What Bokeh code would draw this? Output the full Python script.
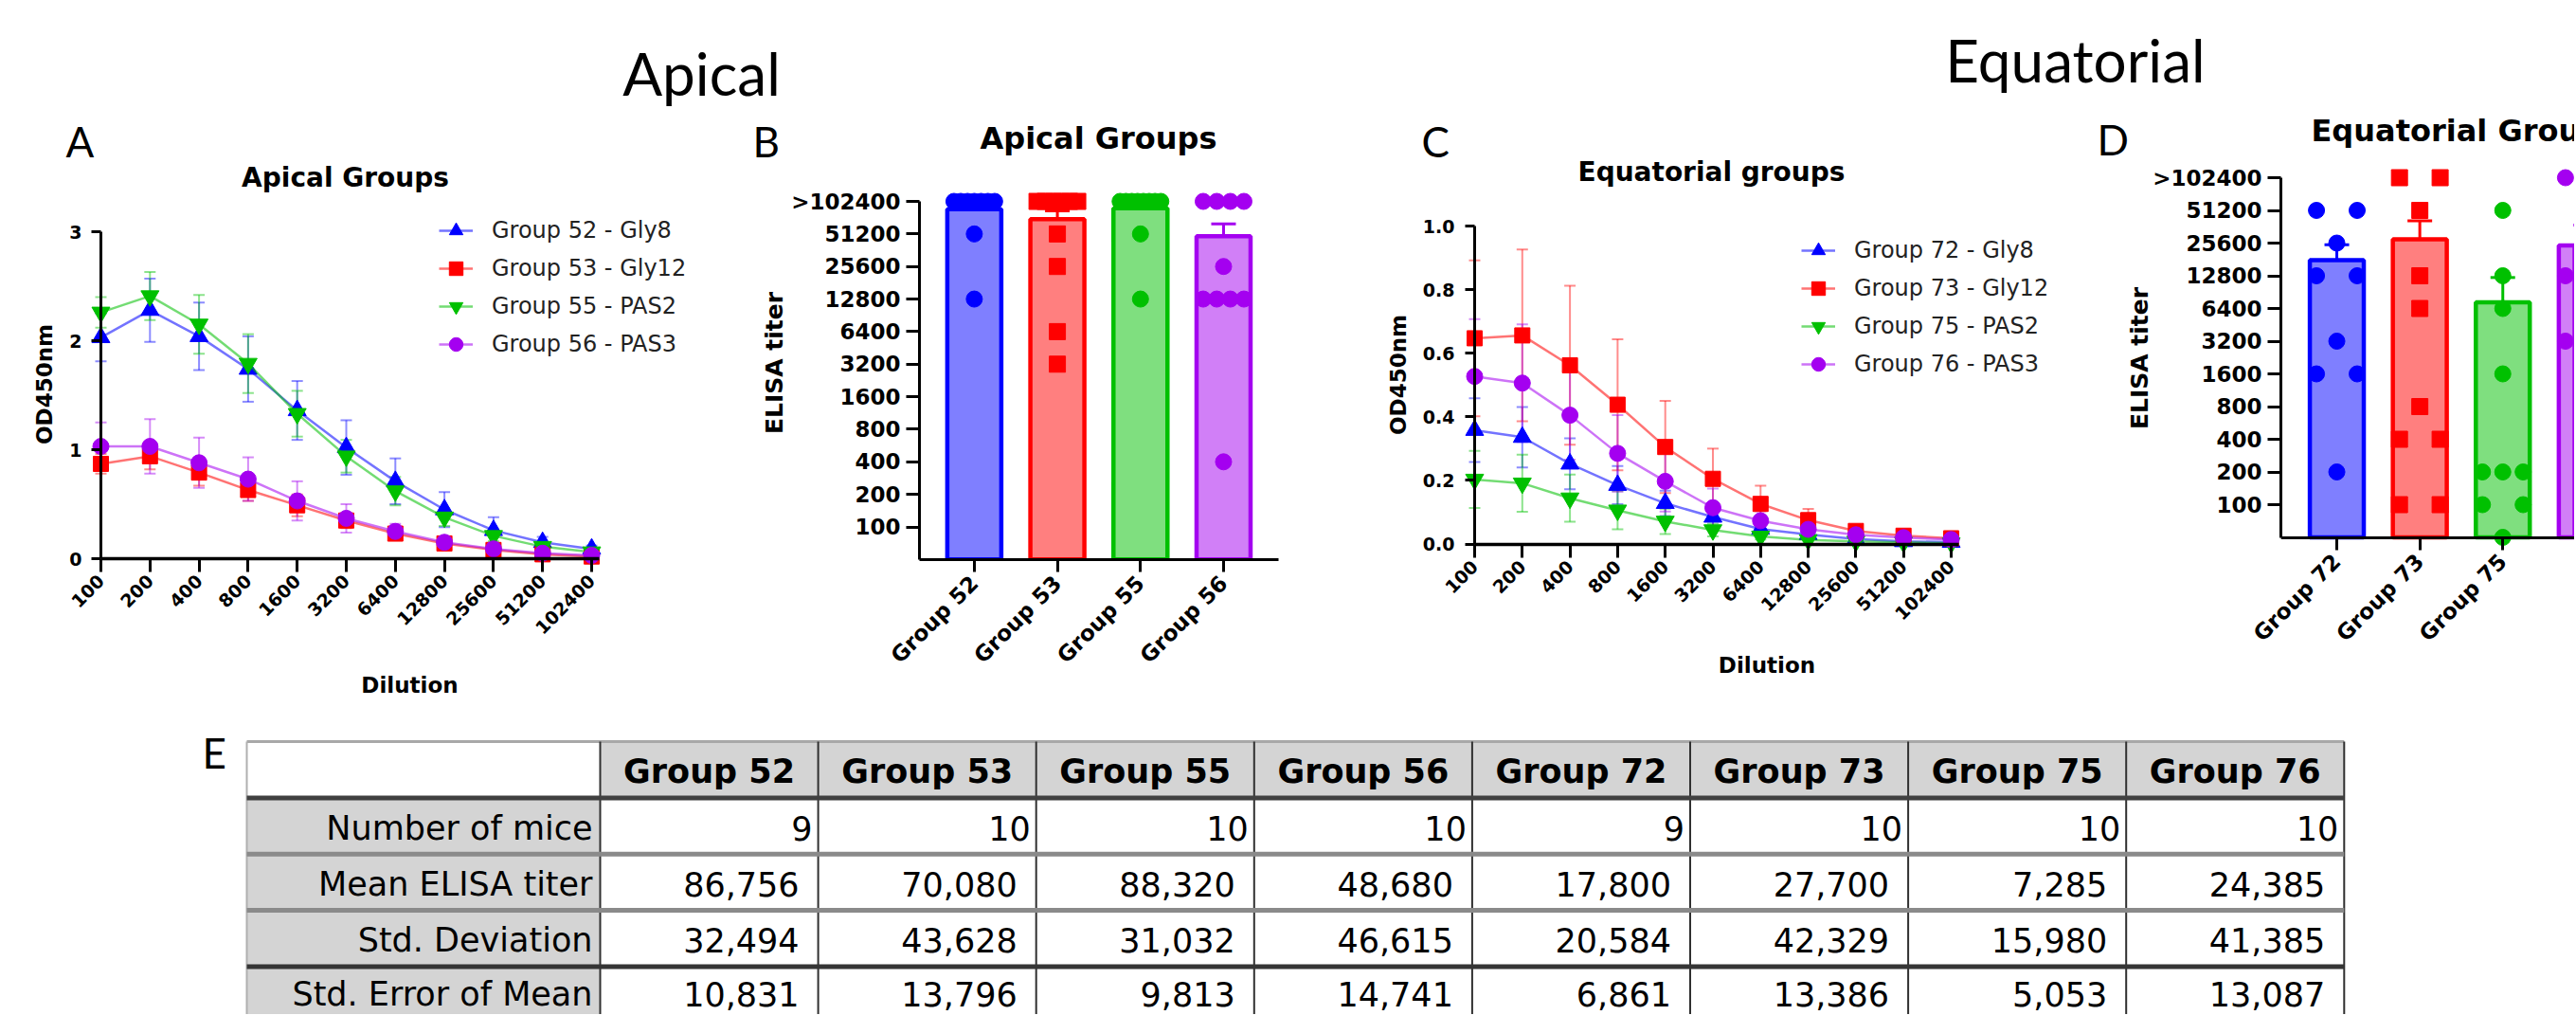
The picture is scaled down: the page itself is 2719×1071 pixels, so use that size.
import math
from bokeh.plotting import figure
from bokeh.models import (Range1d, FixedTicker, BasicTickFormatter, NumeralTickFormatter,
                          Whisker, TeeHead, ColumnDataSource, Legend, LegendItem, Label,
                          LinearAxis, LogAxis)
from bokeh.layouts import column, row
from bokeh.embed import file_html
from bokeh.resources import INLINE
from bokeh.core.properties import value

# ---------------- data ----------------
dilutions = [100, 200, 400, 800, 1600, 3200, 6400, 12800, 25600, 51200, 102400]

apical_names = ["Group 52 - Gly8", "Group 53 - Gly12", "Group 55 - PAS2", "Group 56 - PAS3"]
g52_od = [2.03, 2.28, 2.04, 1.74, 1.36, 1.02, 0.71, 0.45, 0.26, 0.15, 0.09]
g52_err = [0.22, 0.29, 0.31, 0.30, 0.27, 0.25, 0.21, 0.16, 0.12, 0.05, 0.03]
g53_od = [0.87, 0.94, 0.79, 0.63, 0.49, 0.35, 0.23, 0.14, 0.08, 0.04, 0.02]
g53_err = [0.09, 0.12, 0.12, 0.10, 0.10, 0.07, 0.05, 0.03, 0.02, 0.01, 0.01]
g55_od = [2.26, 2.41, 2.15, 1.79, 1.33, 0.94, 0.62, 0.38, 0.21, 0.11, 0.06]
g55_err = [0.14, 0.22, 0.27, 0.27, 0.21, 0.15, 0.13, 0.08, 0.05, 0.03, 0.02]
g56_od = [1.03, 1.03, 0.88, 0.73, 0.53, 0.37, 0.25, 0.15, 0.09, 0.05, 0.03]
g56_err = [0.22, 0.25, 0.23, 0.20, 0.18, 0.13, 0.07, 0.04, 0.03, 0.02, 0.01]

equatorial_names = ["Group 72 - Gly8", "Group 73 - Gly12", "Group 75 - PAS2", "Group 76 - PAS3"]
g72_od = [0.358, 0.336, 0.252, 0.185, 0.128, 0.085, 0.047, 0.030, 0.016, 0.008, 0.006]
g72_err = [0.100, 0.095, 0.080, 0.060, 0.040, 0.030, 0.015, 0.010, 0.010, 0.005, 0.005]
g73_od = [0.647, 0.656, 0.562, 0.438, 0.305, 0.205, 0.126, 0.075, 0.041, 0.026, 0.018]
g73_err = [0.245, 0.270, 0.250, 0.206, 0.145, 0.095, 0.057, 0.035, 0.015, 0.008, 0.005]
g75_od = [0.203, 0.191, 0.144, 0.106, 0.071, 0.044, 0.024, 0.013, 0.008, 0.005, 0.003]
g75_err = [0.090, 0.090, 0.074, 0.060, 0.040, 0.020, 0.010, 0.005, 0.005, 0.003, 0.002]
g76_od = [0.527, 0.506, 0.405, 0.285, 0.197, 0.114, 0.073, 0.046, 0.029, 0.020, 0.014]
g76_err = [0.180, 0.185, 0.140, 0.120, 0.095, 0.060, 0.030, 0.015, 0.010, 0.008, 0.005]

titer_ticks = [100, 200, 400, 800, 1600, 3200, 6400, 12800, 25600, 51200, 102400]
titer_tick_labels = ["100", "200", "400", "800", "1600", "3200", "6400", "12800", "25600", "51200", ">102400"]

apical_groups = ["Group 52", "Group 53", "Group 55", "Group 56"]
titers_52 = [102400, 102400, 102400, 102400, 102400, 102400, 102400, 51200, 12800]
titers_53 = [102400, 102400, 102400, 102400, 102400, 102400, 51200, 25600, 6400, 3200]
titers_55 = [102400, 102400, 102400, 102400, 102400, 102400, 102400, 102400, 51200, 12800]
titers_56 = [102400, 102400, 102400, 102400, 25600, 12800, 12800, 12800, 12800, 400]

equatorial_groups = ["Group 72", "Group 73", "Group 75", "Group 76"]
titers_72 = [51200, 51200, 25600, 12800, 12800, 3200, 1600, 1600, 200]
titers_73 = [102400, 102400, 51200, 12800, 6400, 800, 400, 400, 100, 100]
titers_75 = [51200, 12800, 6400, 1600, 200, 200, 200, 100, 100, 50]
titers_76 = [102400, 102400, 12800, 12800, 3200, 3200, 6400, 400, 200, 50]

table_groups = ["Group 52", "Group 53", "Group 55", "Group 56", "Group 72", "Group 73", "Group 75", "Group 76"]
row_labels = ["Number of mice", "Mean ELISA titer", "Std. Deviation", "Std. Error of Mean"]
n_mice = [9, 10, 10, 10, 9, 10, 10, 10]
mean_titer = [86756, 70080, 88320, 48680, 17800, 27700, 7285, 24385]
std_dev = [32494, 43628, 31032, 46615, 20584, 42329, 15980, 41385]
sem_titer = [10831, 13796, 9813, 14741, 6861, 13386, 5053, 13087]

# ---------------- styles ----------------
BLUE, RED, GREEN, PURPLE = "#0000ff", "#ff0000", "#00c000", "#a400f0"
colors = [BLUE, RED, GREEN, PURPLE]
line_markers = ["triangle", "square", "inverted_triangle", "circle"]
line_marker_sizes = [19, 16, 19, 17]
FONT = "DejaVu Sans"
HEAD_FONT = "Lato"

PAGE_W = 2717
TOP_H = 118          # strip with "Apical" / "Equatorial"
ROW_BOTTOM = 760     # page y where the table starts
TAB_H = 310
COL_X = [0, 770, 1420, 2185, PAGE_W]   # page x of the four panel columns
HEAD_BOTTOM = [205, 175, 200, 173]     # page y where each panel figure starts


def base_fig(**kw):
    p = figure(output_backend="svg", toolbar_location=None, title=None,
               frame_align=False, **kw)
    p.outline_line_color = None
    p.grid.visible = False
    p.background_fill_color = "white"
    p.border_fill_color = "white"
    return p


def strip(x0, y0, x1, y1, texts):
    """Figure whose frame is the whole canvas; texts centred (vertically) at page pixels."""
    p = base_fig(width=x1 - x0, height=y1 - y0, x_range=Range1d(x0, x1), y_range=Range1d(y1, y0),
                 min_border=0, x_axis_location=None, y_axis_location=None)
    for text, x, y, font, size, style, align in texts:
        p.add_layout(Label(x=x, y=y, text=text, text_align=align, text_baseline="middle",
                           text_font=font, text_font_size=size, text_font_style=style,
                           text_color="black"))
    return p


def style_axis(ax):
    ax.axis_line_width = 3
    ax.axis_line_color = "black"
    ax.major_tick_line_width = 3
    ax.major_tick_line_color = "black"
    ax.major_tick_in = 0
    ax.minor_tick_line_color = None
    ax.major_label_text_font = FONT
    ax.major_label_text_font_style = "bold"
    ax.major_label_text_color = "black"
    ax.axis_label_text_font = FONT
    ax.axis_label_text_font_style = "bold"
    ax.axis_label_text_color = "black"


def labels_only(ax):
    ax.axis_line_color = None
    ax.major_tick_line_color = None
    ax.major_tick_out = 0


def line_only(ax, ticks, tick_len):
    ax.ticker = FixedTicker(ticks=ticks, minor_ticks=[])
    ax.major_label_overrides = {t: "" for t in ticks}
    ax.major_label_text_font_size = "1px"
    ax.major_label_standoff = 0
    ax.major_tick_out = tick_len


def line_panel(col, axis_x, px_dbl, axis_y, px_unit, frame_bottom, y_top_tick, yticks, yformat,
               series, names, legend_px, ylab_standoff, ytick_standoff, xtick_standoff,
               xlab_standoff):
    fig_left, fig_right, fig_top = COL_X[col], COL_X[col + 1], HEAD_BOTTOM[col]
    frame_left = axis_x - 12
    x_start = dilutions[0] * 2 ** (-(axis_x - frame_left) / px_dbl)
    x_end = dilutions[0] * 2 ** ((fig_right - axis_x) / px_dbl)
    x_axis_end = dilutions[-1] * 2 ** (8 / px_dbl)
    y_end = (axis_y - fig_top) / px_unit
    y_start = -(frame_bottom - axis_y) / px_unit
    p = base_fig(width=fig_right - fig_left, height=ROW_BOTTOM - fig_top, x_axis_type="log",
                 x_range=Range1d(x_start, x_end), y_range=Range1d(y_start, y_end),
                 min_border_left=frame_left - fig_left, min_border_right=0,
                 min_border_top=0, min_border_bottom=ROW_BOTTOM - frame_bottom)
    xa, ya = p.xaxis[0], p.yaxis[0]
    style_axis(xa)
    style_axis(ya)
    labels_only(xa)
    labels_only(ya)
    xa.ticker = FixedTicker(ticks=dilutions, minor_ticks=[])
    xa.formatter = BasicTickFormatter(use_scientific=False)
    xa.major_label_overrides = {d: str(d) for d in dilutions}
    xa.major_label_orientation = math.pi / 4
    xa.major_label_text_font_size = "19px"
    xa.major_label_standoff = xtick_standoff
    xa.bounds = (dilutions[0], x_axis_end)
    xa.axis_label = "Dilution"
    xa.axis_label_text_font_size = "23px"
    xa.axis_label_standoff = xlab_standoff
    ya.ticker = FixedTicker(ticks=yticks, minor_ticks=[])
    ya.formatter = yformat
    ya.major_label_text_font_size = "19px"
    ya.major_label_standoff = ytick_standoff
    ya.bounds = (0, y_top_tick)
    ya.axis_label = "OD450nm"
    ya.axis_label_text_font_size = "23px"
    ya.axis_label_standoff = ylab_standoff
    # axis lines that cross at (100, 0)
    x_line = LogAxis(fixed_location=0, bounds=(dilutions[0], x_axis_end))
    style_axis(x_line)
    line_only(x_line, dilutions, 14)
    x_line.axis_line_width = 3.5
    p.add_layout(x_line, "below")
    y_line = LinearAxis(fixed_location=dilutions[0], bounds=(0, y_top_tick))
    style_axis(y_line)
    line_only(y_line, yticks, 10)
    p.add_layout(y_line, "left")

    items = []
    for (od, err), name, c, m, s in zip(series, names, colors, line_markers, line_marker_sizes):
        src = ColumnDataSource(dict(x=dilutions, y=od,
                                    lo=[v - e for v, e in zip(od, err)],
                                    hi=[v + e for v, e in zip(od, err)]))
        p.add_layout(Whisker(source=src, base="x", lower="lo", upper="hi",
                             line_color=c, line_alpha=0.45, line_width=2,
                             upper_head=TeeHead(size=12, line_color=c, line_alpha=0.45, line_width=2),
                             lower_head=TeeHead(size=12, line_color=c, line_alpha=0.45, line_width=2)))
        lr = p.line("x", "y", source=src, line_color=c, line_alpha=0.55, line_width=2.5)
        sr = p.scatter("x", "y", source=src, marker=m, size=s, fill_color=c, line_color=c)
        items.append(LegendItem(label=name, renderers=[lr, sr]))
    leg_left, leg_bottom = legend_px
    leg = Legend(items=items, location=(leg_left - frame_left, frame_bottom - leg_bottom),
                 padding=0, margin=0, spacing=0,
                 glyph_width=36, glyph_height=40, label_height=40, label_standoff=20,
                 border_line_color=None, background_fill_alpha=0,
                 label_text_font=FONT, label_text_font_size="24px", label_text_color="#222222")
    p.add_layout(leg)
    return p


def spread(vals, span=0.49):
    counts = {}
    for v in vals:
        counts[v] = counts.get(v, 0) + 1
    seen, offs = {}, []
    for v in vals:
        n = counts[v]
        k = seen.get(v, 0)
        seen[v] = k + 1
        offs.append(0.0 if n == 1 else -span / 2 + span * k / (n - 1))
    return offs


def bar_panel(col, axis_x, px_cat, x_start, frame_right, top_tick, px_dbl, frame_bottom,
              fixed_axis, groups, titer_sets, means, sems, markers, ylab_standoff, xtick_standoff):
    fig_left, fig_right, fig_top = COL_X[col], COL_X[col + 1], HEAD_BOTTOM[col]
    base_px = top_tick + 11 * px_dbl          # page y of the value 50 (x-axis)
    x_end = x_start + (frame_right - axis_x) / px_cat
    y_end = 102400 * 2 ** ((top_tick - fig_top) / px_dbl)
    y_start = 50 * 2 ** (-(frame_bottom - base_px) / px_dbl)
    p = base_fig(width=fig_right - fig_left, height=ROW_BOTTOM - fig_top, y_axis_type="log",
                 x_range=Range1d(x_start, x_end), y_range=Range1d(y_start, y_end),
                 min_border_left=axis_x - fig_left, min_border_right=fig_right - frame_right,
                 min_border_top=0, min_border_bottom=ROW_BOTTOM - frame_bottom)
    xa, ya = p.xaxis[0], p.yaxis[0]
    style_axis(xa)
    style_axis(ya)
    idx = list(range(len(groups)))
    xa.ticker = FixedTicker(ticks=idx, minor_ticks=[])
    xa.major_label_overrides = {i: g for i, g in zip(idx, groups)}
    xa.major_label_orientation = math.pi / 4
    xa.major_label_text_font_size = "23px"
    xa.major_tick_out = 13
    xa.major_label_standoff = xtick_standoff
    if fixed_axis:
        labels_only(xa)
        # keep labels of categories whose centre lies just past the cut edge (partly visible)
        xa.bounds = (-0.3, len(groups) - 0.8)
        x_line = LinearAxis(fixed_location=50)
        style_axis(x_line)
        line_only(x_line, idx, 13)
        p.add_layout(x_line, "below")
    ya.ticker = FixedTicker(ticks=titer_ticks, minor_ticks=[])
    ya.formatter = BasicTickFormatter(use_scientific=False)
    ya.major_label_overrides = {t: l for t, l in zip(titer_ticks, titer_tick_labels)}
    ya.major_label_text_font_size = "23px"
    ya.major_tick_out = 14
    ya.major_label_standoff = 6
    ya.bounds = (50, 102400)
    ya.axis_label = "ELISA titer"
    ya.axis_label_text_font_size = "25px"
    ya.axis_label_standoff = ylab_standoff

    src = ColumnDataSource(dict(x=idx, top=means, hi=[m + s for m, s in zip(means, sems)],
                                c=colors))
    p.add_layout(Whisker(source=src, base="x", lower="top", upper="hi",
                         line_color="c", line_width=3, lower_head=None,
                         upper_head=TeeHead(size=26, line_color="c", line_width=3)))
    p.vbar(x="x", top="top", bottom=50, width=0.65, source=src,
           fill_color="c", fill_alpha=0.5, line_color="c", line_width=4.5)
    for i, (vals, c, m) in enumerate(zip(titer_sets, colors, markers)):
        xs = [i + o for o in spread(vals)]
        p.scatter(xs, vals, marker=m, size=17, fill_color=c, line_color=c)
    return p


# ---------------- text strips ----------------
pTop = strip(0, 0, PAGE_W, TOP_H, [
    ("Apical", 740, 76, HEAD_FONT, "62px", "normal", "center"),
    ("Equatorial", 2190, 62, HEAD_FONT, "62px", "normal", "center"),
])
hA = strip(COL_X[0], TOP_H, COL_X[1], HEAD_BOTTOM[0], [
    ("A", 69, 148, HEAD_FONT, "44px", "normal", "left"),
    ("Apical Groups", 364, 187, FONT, "28px", "bold", "center"),
])
hB = strip(COL_X[1], TOP_H, COL_X[2], HEAD_BOTTOM[1], [
    ("B", 794, 148, HEAD_FONT, "44px", "normal", "left"),
    ("Apical Groups", 1159, 145, FONT, "32px", "bold", "center"),
])
hC = strip(COL_X[2], TOP_H, COL_X[3], HEAD_BOTTOM[2], [
    ("C", 1500, 148, HEAD_FONT, "44px", "normal", "left"),
    ("Equatorial groups", 1806, 181, FONT, "28px", "bold", "center"),
])
hD = strip(COL_X[3], TOP_H, COL_X[4], HEAD_BOTTOM[3], [
    ("D", 2213, 146, HEAD_FONT, "44px", "normal", "left"),
    ("Equatorial Groups", 2439, 137, FONT, "32px", "bold", "left"),
])

# ---------------- panels ----------------
pA = line_panel(0, 106, 51.8, 589, 115.0, 605, 3, [0, 1, 2, 3], BasicTickFormatter(),
                [(g52_od, g52_err), (g53_od, g53_err), (g55_od, g55_err), (g56_od, g56_err)],
                apical_names, (463, 383), 10, 8, 4, 32)

pB = bar_panel(1, 970, 87.7, -0.66, 1349, 212, 34.35, 590, False,
               apical_groups, [titers_52, titers_53, titers_55, titers_56],
               mean_titer[:4], sem_titer[:4], ["circle", "square", "circle", "circle"], 0, 8)

pC = line_panel(2, 1556, 50.3, 573.5, 335.5, 590, 1.0,
                [0, 0.2, 0.4, 0.6, 0.8, 1.0], NumeralTickFormatter(format="0.0"),
                [(g72_od, g72_err), (g73_od, g73_err), (g75_od, g75_err), (g76_od, g76_err)],
                equatorial_names, (1901, 404), 10, 9, 4, 26)

pD = bar_panel(3, 2407, 87.6, -0.674, PAGE_W, 187, 34.5, 582, True,
               equatorial_groups, [titers_72, titers_73, titers_75, titers_76],
               mean_titer[4:], sem_titer[4:], ["circle", "square", "circle", "circle"], -4, 6)

# ---------------- table ----------------
pE = base_fig(width=PAGE_W, height=TAB_H, x_range=Range1d(0, PAGE_W), y_range=Range1d(TAB_H, 0),
              min_border=0, x_axis_location=None, y_axis_location=None)
lab_l, lab_r = 260, 633
col_w = 230.1
col_edges = [lab_r + col_w * k for k in range(len(table_groups) + 1)]
head_t, head_b = 22, 81.5
row_h = 59.3
row_tops = [head_b + row_h * k for k in range(len(row_labels))]
text_dy = [2, 2, 2, -1]
GRAY = "#d4d4d4"

pE.quad(left=col_edges[:-1], right=col_edges[1:], top=[head_t] * 8, bottom=[head_b] * 8,
        fill_color=GRAY, line_color=None)
pE.quad(left=[lab_l] * 4, right=[lab_r] * 4, top=row_tops, bottom=[t + row_h for t in row_tops],
        fill_color=GRAY, line_color=None)
pE.segment(x0=[lab_l], y0=[head_t], x1=[col_edges[-1]], y1=[head_t], line_color="#a8a8a8", line_width=3)
pE.segment(x0=[lab_l], y0=[head_t], x1=[lab_l], y1=[TAB_H], line_color="#b0b0b0", line_width=2)
pE.segment(x0=col_edges, y0=[head_t] * 9, x1=col_edges, y1=[TAB_H] * 9, line_color="#303030", line_width=2)
sep_y = [head_b] + [t + row_h for t in row_tops[:3]]
sep_c = ["#404040", "#8a8a8a", "#8a8a8a", "#353535"]
pE.segment(x0=[lab_l] * 4, y0=sep_y, x1=[col_edges[-1]] * 4, y1=sep_y, line_color=sep_c, line_width=5)

centers = [e + col_w / 2 for e in col_edges[:-1]]
pE.text(x=centers, y=[(head_t + head_b) / 2 + 2] * 8, text=table_groups,
        text_font=value(FONT), text_font_style="bold", text_font_size="35px",
        text_align="center", text_baseline="middle", text_color="black")
pE.text(x=[lab_r - 8] * 4, y=[t + row_h / 2 + d for t, d in zip(row_tops, text_dy)], text=row_labels,
        text_font=value(FONT), text_font_size="35px", text_align="right",
        text_baseline="middle", text_color="black")
rows_vals = [n_mice, mean_titer, std_dev, sem_titer]
pads = [6, 20, 20, 20]
for r, (vals, pad) in enumerate(zip(rows_vals, pads)):
    pE.text(x=[e - pad for e in col_edges[1:]], y=[row_tops[r] + row_h / 2 + text_dy[r]] * 8,
            text=[f"{v:,}" for v in vals], text_font=value(FONT), text_font_size="35px",
            text_align="right", text_baseline="middle", text_color="black")
pE.add_layout(Label(x=213, y=33, text="E", text_font=HEAD_FONT, text_font_size="44px",
                    text_baseline="middle", text_color="black"))

layout = column(pTop,
                row(column(hA, pA), column(hB, pB), column(hC, pC), column(hD, pD)),
                pE)
open("out.html", "w").write(file_html(layout, INLINE))
